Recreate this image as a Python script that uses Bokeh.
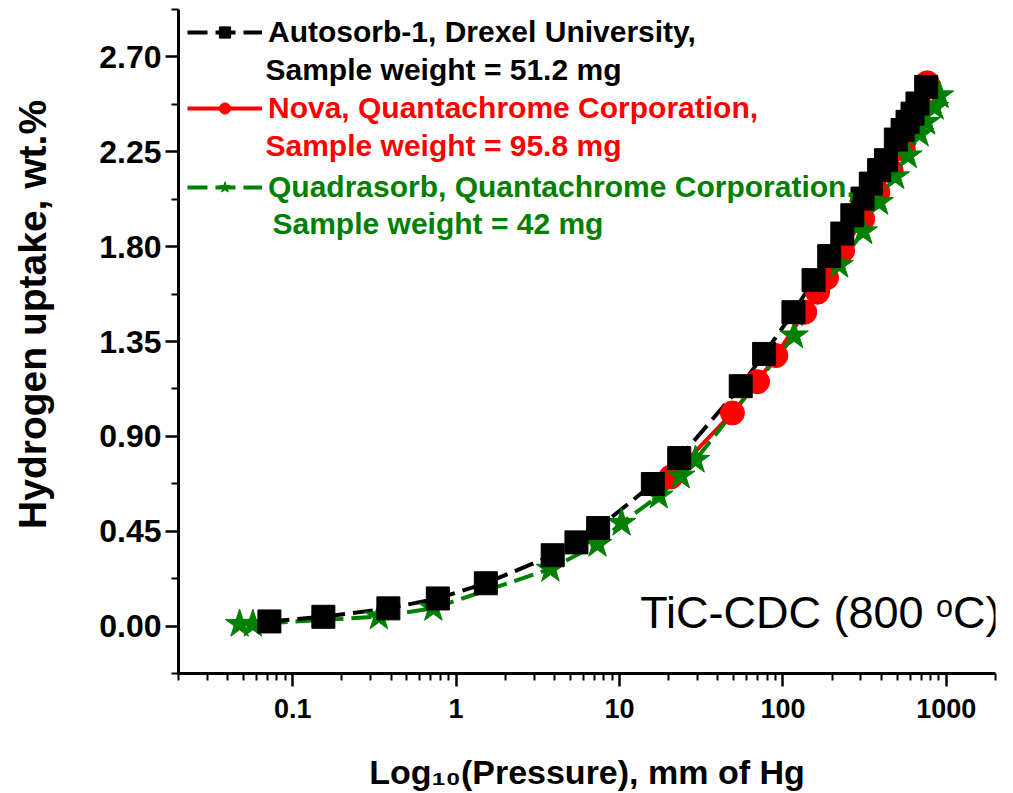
from bokeh.plotting import figure
from bokeh.models import Range1d, FixedTicker, PrintfTickFormatter, Legend, LegendItem, Label
from bokeh.embed import file_html
from bokeh.resources import INLINE

# ---- data ----
autosorb_p = [0.072, 0.154, 0.385, 0.773, 1.52, 3.90, 5.45, 7.40, 16.0, 23.2, 55.2, 76.7,
              116, 154, 192, 231, 266, 307, 345, 388, 427, 491, 540, 579, 621, 666, 753]
autosorb_h = [0.022, 0.044, 0.084, 0.131, 0.203, 0.336, 0.397, 0.465, 0.674, 0.797, 1.138, 1.291,
              1.489, 1.641, 1.755, 1.862, 1.949, 2.028, 2.099, 2.163, 2.210, 2.308, 2.353, 2.392,
              2.431, 2.479, 2.558]

nova_p = [20.6, 49.1, 70.0, 90.6, 136, 163, 185, 232, 308, 381, 460, 545, 628, 700, 764]
nova_h = [0.707, 1.011, 1.159, 1.283, 1.489, 1.584, 1.652, 1.781, 1.932, 2.058, 2.159, 2.264,
          2.368, 2.460, 2.577]

quadra_p = [0.0473, 0.0570, 0.337, 0.726, 3.78, 7.33, 10.3, 17.4, 23.7, 29.2, 117, 221, 310,
            388, 487, 582, 686, 753, 848, 910]
quadra_h = [0.0095, 0.0095, 0.045, 0.085, 0.271, 0.389, 0.489, 0.618, 0.713, 0.788, 1.378, 1.713,
            1.872, 2.011, 2.133, 2.232, 2.335, 2.391, 2.462, 2.517]

x_ticks = [0.1, 1, 10, 100, 1000]
x_tick_labels = ["0.1", "1", "10", "100", "1000"]
y_ticks = [0.00, 0.45, 0.90, 1.35, 1.80, 2.25, 2.70]

series_names = ["Autosorb-1, Drexel University,", "Nova, Quantachrome Corporation,",
                "Quadrasorb, Quantachrome Corporation,"]
series_notes = ["Sample weight = 51.2 mg", "Sample weight = 95.8 mg", "Sample weight = 42 mg"]
series_colors = ["#000000", "#FF0000", "#008000"]

FONT = "Liberation Sans"

p = figure(width=1005, height=793, x_axis_type="log",
           x_range=Range1d(0.02, 2000), y_range=Range1d(-0.225, 2.925),
           output_backend="svg", toolbar_location=None,
           min_border_left=178, min_border_right=10, min_border_top=9, min_border_bottom=120)
p.outline_line_color = None
p.grid.visible = False
p.background_fill_color = "white"

# x axis
minor_x = [k * 10.0 ** e for e in range(-2, 4) for k in range(1, 10)]
minor_x = [v for v in minor_x if 0.0199 <= v <= 2001 and v not in x_ticks]
p.xaxis.ticker = FixedTicker(ticks=x_ticks, minor_ticks=minor_x)
p.xaxis.major_label_overrides = {t: l for t, l in zip(x_ticks, x_tick_labels)}
p.xaxis.axis_label = "Log\u2081\u2080(Pressure), mm of Hg"

# y axis
minor_y = [-0.225 + 0.45 * i for i in range(8)]
p.yaxis.ticker = FixedTicker(ticks=y_ticks, minor_ticks=minor_y)
p.yaxis.formatter = PrintfTickFormatter(format="%.2f")
# leading no-break spaces move the visible title a little above the frame centre, as in the reference
p.yaxis.axis_label = "\u00a0" * 5 + "Hydrogen uptake, wt.%"

for ax in (p.xaxis, p.yaxis):
    ax.axis_line_width = 3
    ax.major_tick_line_width = 2.5
    ax.minor_tick_line_width = 2
    ax.major_tick_out = 13
    ax.major_tick_in = 0
    ax.minor_tick_out = 7
    ax.minor_tick_in = 0
    ax.axis_label_text_font_style = "bold"
    ax.major_label_text_font_style = "bold"
    ax.axis_label_text_color = "black"
    ax.major_label_text_color = "black"

p.xaxis.major_label_text_font = FONT
p.xaxis.major_label_text_font_size = "27px"
p.xaxis.major_label_standoff = 12
p.xaxis.axis_label_text_font = FONT
p.xaxis.axis_label_text_font_size = "34px"
p.xaxis.axis_label_standoff = 32

p.yaxis.major_label_text_font = FONT
p.yaxis.major_label_text_font_size = "32px"
p.yaxis.major_label_standoff = 4
p.yaxis.axis_label_text_font = FONT
p.yaxis.axis_label_text_font_size = "39px"
p.yaxis.axis_label_standoff = 42

# ---- series ----
r_nova_l = p.line(nova_p, nova_h, line_color=series_colors[1], line_width=4)
r_quad_l = p.line(quadra_p, quadra_h, line_color=series_colors[2], line_width=4, line_dash="20 8")
r_auto_l = p.line(autosorb_p, autosorb_h, line_color=series_colors[0], line_width=4, line_dash="20 8")
r_nova_m = p.scatter(nova_p, nova_h, marker="circle", size=24,
                     fill_color=series_colors[1], line_color=series_colors[1])
r_quad_m = p.scatter(quadra_p, quadra_h, marker="star", size=30,
                     fill_color=series_colors[2], line_color=series_colors[2])
r_auto_m = p.scatter(autosorb_p, autosorb_h, marker="square", size=23,
                     fill_color=series_colors[0], line_color=series_colors[0])

renderers = [(r_auto_l, r_auto_m), (r_nova_l, r_nova_m), (r_quad_l, r_quad_m)]
legend_y = [624, 548, 469]
note_pos = [(87, 604), (87, 528), (94, 450)]

for i in range(3):
    leg = Legend(items=[LegendItem(label=series_names[i], renderers=list(renderers[i]))],
                 location=(9, legend_y[i]), orientation="vertical",
                 glyph_width=75, glyph_height=28, label_height=30, label_standoff=6,
                 padding=0, margin=0, spacing=0,
                 border_line_color=None, background_fill_alpha=0,
                 label_text_font=FONT, label_text_font_style="bold",
                 label_text_font_size="30px", label_text_color=series_colors[i])
    p.add_layout(leg, "center")
    nx, ny = note_pos[i]
    p.add_layout(Label(x=nx, y=ny, x_units="screen", y_units="screen",
                       text=series_notes[i], text_font=FONT, text_font_style="bold",
                       text_font_size="30px", text_color=series_colors[i],
                       text_baseline="middle", text_align="left"))

p.add_layout(Label(x=822, y=61, x_units="screen", y_units="screen",
                   text="TiC-CDC (800 \u1d52C)", text_font=FONT,
                   text_font_size="45px", text_color="black",
                   text_baseline="middle", text_align="right"))

open("out.html", "w").write(file_html(p, INLINE))
